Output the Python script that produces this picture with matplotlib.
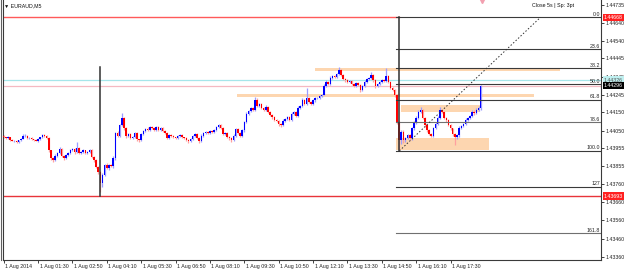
# EURAUD M5 chart with fibonacci retracement and supply/demand zones
import numpy as np
import matplotlib
matplotlib.use("Agg")
import matplotlib.pyplot as plt
import matplotlib.transforms as mtransforms

plt.rcParams["font.family"] = ["Liberation Sans", "DejaVu Sans"]

# ---- data ----
symbol = "EURAUD,M5"
first_open = 1.44021
closes = [
    1.44015, 1.44010, 1.44015, 1.43999, 1.43994, 1.43994, 1.43988, 1.43999, 1.44004, 1.44021,
    1.44021, 1.44010, 1.44010, 1.44004, 1.43999, 1.43994, 1.44004, 1.44015, 1.44026, 1.44021,
    1.44010, 1.43944, 1.43901, 1.43890, 1.43912, 1.43928, 1.43950, 1.43912, 1.43901, 1.43917,
    1.43928, 1.43944, 1.43950, 1.43933, 1.43955, 1.43928, 1.43933, 1.43944, 1.43928, 1.43933,
    1.43944, 1.43906, 1.43890, 1.43851, 1.43824, 1.43764, 1.43808, 1.43862, 1.43846, 1.43862,
    1.43857, 1.43901, 1.44037, 1.44021, 1.44081, 1.44119, 1.44064, 1.44021, 1.44032, 1.44010,
    1.44015, 1.44037, 1.44004, 1.43999, 1.44032, 1.44048, 1.44059, 1.44053, 1.44070, 1.44064,
    1.44053, 1.44070, 1.44053, 1.44064, 1.44048, 1.44037, 1.44010, 1.44026, 1.44021, 1.44015,
    1.44010, 1.44021, 1.44026, 1.44015, 1.44010, 1.43999, 1.43994, 1.44004, 1.44021, 1.44032,
    1.44010, 1.43994, 1.44021, 1.44037, 1.44043, 1.44037, 1.44048, 1.44043, 1.44053, 1.44070,
    1.44081, 1.44064, 1.44032, 1.44037, 1.44015, 1.44010, 1.43999, 1.44021, 1.44059, 1.44037,
    1.44021, 1.44053, 1.44097, 1.44141, 1.44157, 1.44174, 1.44163, 1.44217, 1.44185, 1.44195,
    1.44174, 1.44163, 1.44179, 1.44152, 1.44135, 1.44124, 1.44108, 1.44103, 1.44086, 1.44081,
    1.44103, 1.44114, 1.44124, 1.44108, 1.44141, 1.44152, 1.44130, 1.44174, 1.44185, 1.44217,
    1.44195, 1.44228, 1.44206, 1.44195, 1.44217, 1.44228, 1.44228, 1.44239, 1.44245, 1.44294,
    1.44316, 1.44305, 1.44337, 1.44348, 1.44343, 1.44359, 1.44381, 1.44354, 1.44332, 1.44326,
    1.44316, 1.44321, 1.44305, 1.44294, 1.44310, 1.44299, 1.44272, 1.44294, 1.44316, 1.44332,
    1.44337, 1.44354, 1.44326, 1.44294, 1.44305, 1.44316, 1.44326, 1.44321, 1.44348, 1.44316,
    1.44283, 1.44272, 1.44245, 1.44097, 1.43999, 1.44043, 1.43999, 1.44010, 1.44026, 1.44010,
    1.44064, 1.44092, 1.44119, 1.44152, 1.44163, 1.44119, 1.44081, 1.44053, 1.44032, 1.44021,
    1.44064, 1.44086, 1.44119, 1.44163, 1.44152, 1.44119, 1.44108, 1.44081, 1.44064, 1.44032,
    1.44015, 1.44026, 1.44064, 1.44075, 1.44086, 1.44108, 1.44119, 1.44130, 1.44152, 1.44146,
    1.44163, 1.44174, 1.44296,
]
# wick lengths in points (0.00001) above / below the candle body
up_wick = [
    5, 3, 6, 2, 4, 3, 5, 2, 6, 8,   10, 4, 3, 5, 2, 4, 6, 3, 8, 5,
    3, 4, 2, 6, 8, 5, 10, 3, 4, 6,  5, 8, 6, 4, 33, 5, 4, 6, 3, 5,
    4, 6, 3, 5, 8, 6, 10, 8, 12, 6, 5, 8, 4, 10, 6, 27, 8, 5, 6, 4,
    6, 8, 5, 3, 6, 8, 5, 10, 6, 4,  5, 8, 4, 6, 5, 3, 6, 8, 4, 5,
    3, 6, 5, 4, 3, 6, 4, 8, 5, 6,   4, 3, 8, 5, 6, 4, 5, 6, 8, 5,
    6, 4, 5, 3, 6, 4, 5, 10, 6, 4,  5, 8, 6, 10, 8, 6, 5, 17, 10, 6,
    8, 6, 10, 5, 4, 6, 5, 3, 4, 6,  8, 5, 6, 4, 10, 6, 5, 8, 6, 10,
    6, 55, 8, 6, 5, 8, 6, 5, 6, 10, 8, 6, 10, 5, 6, 8, 16, 6, 5, 4,
    6, 5, 4, 6, 5, 8, 4, 6, 8, 5,   6, 16, 4, 5, 6, 5, 8, 6, 44, 5,
    6, 4, 5, 3, 6, 10, 8, 5, 6, 4,  8, 10, 12, 8, 16, 6, 5, 4, 6, 5,
    8, 10, 12, 16, 6, 5, 4, 6, 5, 3, 6, 8, 10, 8, 6, 10, 8, 6, 12, 8,
    10, 12, 3,
]
dn_wick = [
    4, 6, 3, 5, 2, 6, 4, 5, 3, 2,   5, 4, 6, 3, 5, 2, 4, 6, 3, 5,
    6, 8, 10, 12, 5, 6, 4, 8, 10, 5, 6, 4, 5, 8, 4, 6, 5, 3, 6, 4,
    5, 8, 10, 6, 12, 49, 20, 8, 6, 10, 8, 12, 10, 6, 5, 4, 8, 10, 6, 8,
    5, 6, 8, 12, 4, 5, 6, 4, 3, 5,  6, 4, 5, 3, 6, 5, 8, 6, 4, 5,
    6, 5, 4, 3, 6, 8, 10, 4, 5, 6,  8, 10, 5, 4, 6, 5, 3, 4, 6, 5,
    4, 6, 5, 8, 6, 10, 12, 6, 5, 4, 6, 5, 8, 6, 4, 5, 6, 4, 8, 6,
    5, 6, 4, 5, 6, 8, 5, 6, 10, 12, 6, 5, 6, 8, 5, 4, 6, 5, 4, 5,
    6, 5, 4, 6, 5, 8, 6, 4, 5, 3,   5, 6, 4, 5, 3, 6, 4, 6, 5, 8,
    6, 4, 5, 6, 8, 5, 11, 6, 4, 5,  6, 4, 8, 10, 5, 6, 4, 5, 6, 8,
    6, 8, 10, 12, 55, 20, 15, 10, 8, 12, 10, 8, 6, 5, 6, 8, 10, 12, 8, 6,
    8, 6, 5, 4, 6, 8, 10, 6, 8, 10, 43, 12, 8, 6, 5, 6, 4, 5, 6, 8,
    6, 5, 10,
]

time_labels = ["1 Aug 2014", "1 Aug 01:30", "1 Aug 02:50", "1 Aug 04:10", "1 Aug 05:30",
               "1 Aug 06:50", "1 Aug 08:10", "1 Aug 09:30", "1 Aug 10:50", "1 Aug 12:10",
               "1 Aug 13:30", "1 Aug 14:50", "1 Aug 16:10", "1 Aug 17:30"]
bars_per_label = 16

price_ticks = [1.44735, 1.44640, 1.44540, 1.44445, 1.44345, 1.44245, 1.44150, 1.44050,
               1.43955, 1.43855, 1.43760, 1.43660, 1.43560, 1.43460, 1.43360]

# fibonacci drawn from swing high to swing low
fib_high = 1.44668
fib_low = 1.43940
fib_start_bar = 182.8
fib_anchor_bar = 184.2
fib_levels = [0.0, 23.6, 38.2, 50.0, 61.8, 78.6, 100.0, 127.0, 161.8]
fib_names = ["0.0", "23.6", "38.2", "50.0", "61.8", "78.6", "100.0", "127", "161.8"]
trend_end_bar = 249.8

# zones: (start bar, end bar, low price, high price)
zone_start = [145.1, 108.8, 185.1, 182.8]
zone_end = [259.1, 247.0, 221.9, 226.0]
zone_low = [1.44376, 1.44232, 1.44152, 1.43944]
zone_high = [1.44394, 1.44252, 1.44190, 1.44010]

red_level_top = 1.44668
red_level_bottom = 1.43693
cyan_level = 1.44326
bid_level = 1.44296
vline_bar = 44.65
vline_top = 1.44397

# ---- build candles ----
closes = np.array(closes)
opens = np.array([first_open] + list(closes[:-1]))
highs = np.maximum(opens, closes) + np.array(up_wick) * 1e-5
lows = np.minimum(opens, closes) - np.array(dn_wick) * 1e-5
x = np.arange(len(closes))
bull = closes >= opens

FS = 3.8

fig = plt.figure(figsize=(6.25, 2.7), dpi=100)
ax = fig.add_axes([3 / 625, 10 / 270, 598 / 625, 260 / 270])
ax.set_xlim(-0.3, 278.0)
ax.set_ylim(1.43344, 1.44763)

# zones behind everything
for x0, x1, lo, hi in zip(zone_start, zone_end, zone_low, zone_high):
    ax.fill_between([x0, x1], lo, hi, color="#fdd6b0", lw=0, zorder=0.5)

# horizontal lines
ax.axhline(cyan_level, color="#a6e6ea", lw=0.9, zorder=0.8)
ax.axhline(bid_level, color="#f5b9c2", lw=0.9, zorder=0.8)
ax.axhline(red_level_bottom, color="#e8343a", lw=1.0, zorder=0.8)
ax.plot([-0.3, fib_anchor_bar], [red_level_top, red_level_top], color="#ff5a5a", lw=1.0, zorder=0.8)

# candles
ax.vlines(x[bull], lows[bull], highs[bull], color="#9c9cff", lw=0.9, zorder=2)
ax.vlines(x[~bull], lows[~bull], highs[~bull], color="#ffa0a0", lw=0.9, zorder=2)
body_lo = np.minimum(opens, closes)
body_h = np.maximum(np.abs(closes - opens), 0.00002)
ax.bar(x, body_h, bottom=body_lo, width=0.7, color=np.where(bull, "#0000ff", "#ff0000"),
       lw=0, zorder=3)

# vertical line on the left swing
ax.plot([vline_bar, vline_bar], [red_level_bottom, vline_top], color="#303030", lw=1.1, zorder=4)

# fibonacci
rng = fib_high - fib_low
blend = mtransforms.blended_transform_factory(ax.transAxes, ax.transData)
for lvl, name in zip(fib_levels, fib_names):
    p = fib_high - rng * lvl / 100
    col = "#707070" if lvl in (78.6, 161.8) else "#3a3a3a"
    ax.plot([fib_start_bar, 278.0], [p, p], color=col, lw=0.8, zorder=4)
    ax.text(0.998, p + 0.00002, name, transform=blend, ha="right", va="bottom",
            fontsize=FS, color="#222222", zorder=5)
ax.plot([fib_anchor_bar, fib_anchor_bar], [fib_high, fib_low], color="#303030", lw=1.1, zorder=4)
ax.plot([fib_anchor_bar, trend_end_bar], [fib_low, fib_high], color="#303030", lw=0.7,
        ls=(0, (1.5, 2)), zorder=4)

# axes styling
ax.spines["top"].set_visible(False)
for s in ("left", "right", "bottom"):
    ax.spines[s].set_color("#3a3a3a")
    ax.spines[s].set_linewidth(0.8)
ax.yaxis.tick_right()
ax.set_yticks(price_ticks)
ax.set_yticklabels(["%.5f" % p for p in price_ticks])
ax.tick_params(axis="y", length=2, width=0.6, pad=1.5, labelsize=FS, colors="#222222")
tick_bars = [i * bars_per_label for i in range(len(time_labels))]
ax.set_xticks(tick_bars)
ax.set_xticklabels(time_labels)
ax.tick_params(axis="x", length=2, width=0.6, pad=0.8, labelsize=FS, colors="#222222")
offset = mtransforms.ScaledTranslation(1.5 / 100, 0, fig.dpi_scale_trans)
for lab in ax.get_xticklabels():
    lab.set_horizontalalignment("left")
    lab.set_transform(lab.get_transform() + offset)

# price label boxes on the right axis
def price_box(p, bg, fg):
    ax.text(1.0 + 3 / 598, p, "%.5f" % p, transform=blend, ha="left", va="center",
            fontsize=FS, color=fg, zorder=10, clip_on=False,
            bbox=dict(facecolor=bg, edgecolor="none", pad=0.8))

price_box(red_level_top, "#ff2020", "white")
price_box(cyan_level, "#bff0f0", "#555555")
price_box(bid_level, "#000000", "white")
price_box(red_level_bottom, "#ff2020", "white")

# header texts
fig.text(4 / 625, 1 - 6 / 270, "\u25bc " + symbol, fontsize=FS, va="center", ha="left",
         color="#111111")
fig.text(574 / 625, 1 - 6 / 270, "Close 5s | Sp: 3pt", fontsize=FS, va="center", ha="right",
         color="#111111")
ax.plot([len(closes) - 0.5], [1.44755], marker="v", ms=3, color="#f2a0b0", clip_on=False,
        zorder=6)
fig.add_artist(plt.Line2D([1 / 625, 1 / 625], [10 / 270, 1], color="#606060", lw=0.8))

fig.savefig("out.png", dpi=100)
